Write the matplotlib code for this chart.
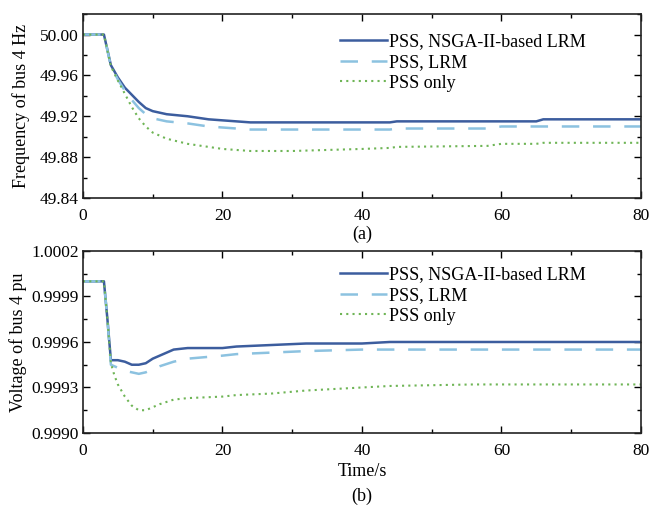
import matplotlib
matplotlib.use('Agg')
import matplotlib.pyplot as plt
from matplotlib.ticker import MultipleLocator, FormatStrFormatter

# time points (s) and values
t_freq = [0, 3, 4, 5, 6, 7, 8, 9, 10, 12, 15, 18, 20, 22, 24, 30, 40, 44, 45, 58, 60, 65, 66, 80]
freq_nsga = [50.000, 50.000, 49.970, 49.958, 49.948, 49.941, 49.934, 49.928, 49.925, 49.922, 49.920,
             49.917, 49.916, 49.915, 49.914, 49.914, 49.914, 49.914, 49.915, 49.915, 49.915, 49.915,
             49.917, 49.917]
freq_lrm = [50.000, 50.000, 49.969, 49.956, 49.945, 49.936, 49.928, 49.922, 49.918, 49.915, 49.913,
            49.910, 49.909, 49.908, 49.907, 49.907, 49.907, 49.907, 49.908, 49.908, 49.910, 49.910,
            49.910, 49.910]
freq_pss = [50.000, 50.000, 49.969, 49.955, 49.942, 49.929, 49.918, 49.910, 49.904, 49.898, 49.893,
            49.890, 49.888, 49.887, 49.886, 49.886, 49.888, 49.889, 49.890, 49.891, 49.893, 49.893,
            49.894, 49.894]

t_volt = [0, 3, 3.5, 4, 4.5, 5, 6, 7, 8, 9, 10, 11, 13, 15, 20, 22, 27, 32, 40, 44, 56, 80]
volt_nsga = [1.00000, 1.00000, 0.99975, 0.99948, 0.99948, 0.99948, 0.99947, 0.99945, 0.99945,
             0.99946, 0.99949, 0.99951, 0.99955, 0.99956, 0.99956, 0.99957, 0.99958, 0.99959,
             0.99959, 0.99960, 0.99960, 0.99960]
volt_lrm = [1.00000, 1.00000, 0.99975, 0.99945, 0.99944, 0.99943, 0.99941, 0.99940, 0.99939,
            0.99940, 0.99942, 0.99944, 0.99947, 0.99949, 0.99951, 0.99952, 0.99953, 0.99954,
            0.99955, 0.99955, 0.99955, 0.99955]
volt_pss = [1.00000, 1.00000, 0.99975, 0.99946, 0.99938, 0.99932, 0.99924, 0.99918, 0.99915,
            0.99915, 0.99917, 0.99919, 0.99922, 0.99923, 0.99924, 0.99925, 0.99926, 0.99928,
            0.99930, 0.99931, 0.99932, 0.99932]

labels = ['PSS, NSGA-II-based LRM', 'PSS, LRM', 'PSS only']

plt.rcParams['font.family'] = ['Liberation Serif', 'DejaVu Serif']
plt.rcParams['font.size'] = 12.5

fig = plt.figure(figsize=(6.51, 5.05), dpi=100)
ax1 = fig.add_axes([0.1275, 0.608, 0.857, 0.364])
ax2 = fig.add_axes([0.1275, 0.1426, 0.857, 0.3604])

c_solid = '#3c5d9e'
c_dash = '#8cc2e0'
c_dot = '#6fb556'


def style_axes(ax, legend_top):
    ax.tick_params(which='both', direction='in', top=True, right=True, labelsize=12.5)
    ax.tick_params(axis='x', pad=7)
    ax.tick_params(axis='y', pad=3)
    ax.tick_params(which='major', length=5, width=1)
    ax.tick_params(which='minor', length=3, width=1)
    for s in ax.spines.values():
        s.set_linewidth(1.2)
        s.set_color('#222222')
    ax.set_xlim(0, 80)
    ax.xaxis.set_major_locator(MultipleLocator(20))
    ax.xaxis.set_minor_locator(MultipleLocator(10))
    ax.legend(loc='upper left', frameon=False, handlelength=2.6, handletextpad=0.1,
              labelspacing=0.2, fontsize=13, bbox_to_anchor=(0.448, legend_top),
              borderaxespad=0)


ax1.plot(t_freq, freq_nsga, color=c_solid, lw=1.8, label=labels[0])
ax1.plot(t_freq, freq_lrm, color=c_dash, lw=1.8, dashes=(7, 5.5), label=labels[1])
ax1.plot(t_freq, freq_pss, color=c_dot, lw=1.5, dashes=(1, 2), label=labels[2])
ax1.set_ylim(49.84, 50.02)
ax1.yaxis.set_major_locator(MultipleLocator(0.04))
ax1.yaxis.set_minor_locator(MultipleLocator(0.02))
ax1.yaxis.set_major_formatter(FormatStrFormatter('%.2f'))
ax1.set_ylabel('Frequency of bus 4 Hz', fontsize=13, labelpad=7)
style_axes(ax1, 0.935)
ax1.text(0.5, -0.2, '(a)', transform=ax1.transAxes, ha='center', va='center', fontsize=13)

ax2.plot(t_volt, volt_nsga, color=c_solid, lw=1.8, label=labels[0])
ax2.plot(t_volt, volt_lrm, color=c_dash, lw=1.8, dashes=(7, 5.5), label=labels[1])
ax2.plot(t_volt, volt_pss, color=c_dot, lw=1.5, dashes=(1, 2), label=labels[2])
ax2.set_ylim(0.9990, 1.0002)
ax2.yaxis.set_major_locator(MultipleLocator(0.0003))
ax2.yaxis.set_minor_locator(MultipleLocator(0.00015))
ax2.yaxis.set_major_formatter(FormatStrFormatter('%.4f'))
ax2.set_ylabel('Voltage of bus 4 pu', fontsize=13, labelpad=3)
ax2.set_xlabel('Time/s', fontsize=13, labelpad=3)
style_axes(ax2, 0.955)
ax2.text(0.5, -0.35, '(b)', transform=ax2.transAxes, ha='center', va='center', fontsize=13)

plt.savefig('out.png', dpi=100)
